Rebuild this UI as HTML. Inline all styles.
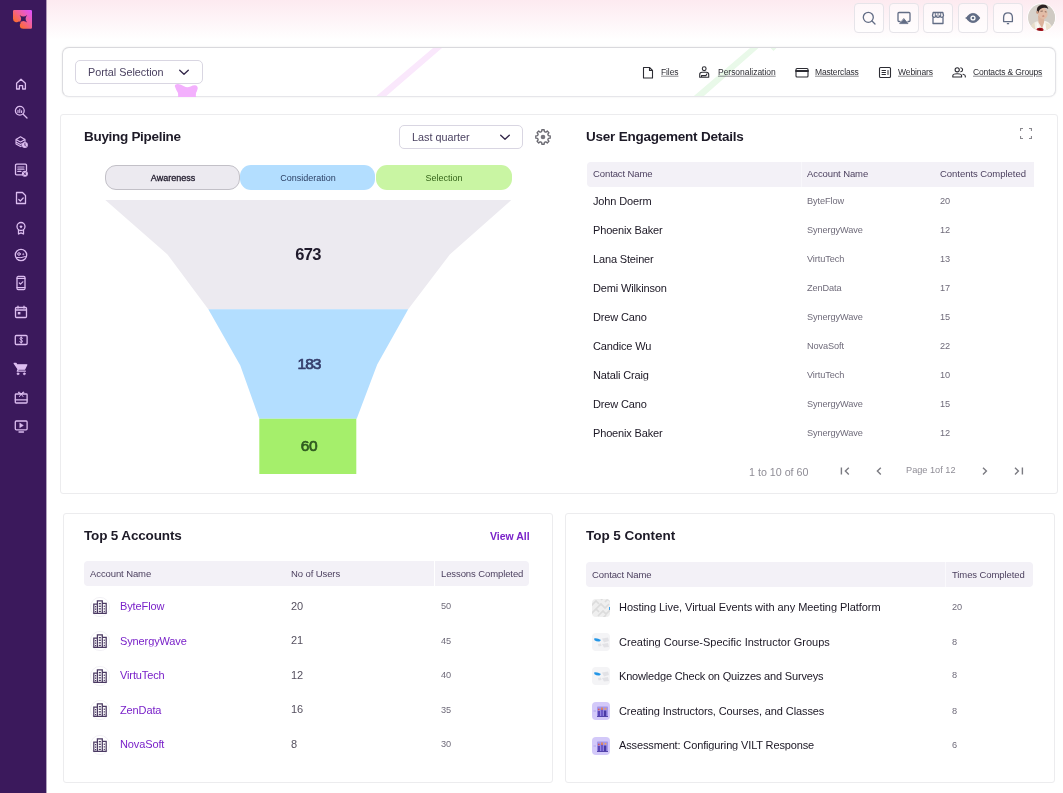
<!DOCTYPE html>
<html>
<head>
<meta charset="utf-8">
<style>
*{box-sizing:border-box;margin:0;padding:0}
html,body{width:1063px;height:793px;overflow:hidden;background:#fff;font-family:"Liberation Sans",sans-serif;color:#1f1a2b}
.abs{position:absolute}
.t{position:absolute;white-space:nowrap;line-height:1;transform:translateY(-50%);will-change:transform}
#side{position:absolute;left:0;top:0;width:46px;height:793px;background:#3b195c}
#topgrad{position:absolute;left:46px;top:0;width:1017px;height:40px;background:linear-gradient(180deg,#fdeaf0 0%,#fff 100%)}
.card{position:absolute;background:#fff;border:1px solid #ececee;border-radius:3px}
.tb{position:absolute;top:3px;width:30px;height:30px;border:1px solid #e6e4e9;border-radius:4px;background:rgba(255,255,255,.55)}
.hdr{position:absolute;background:#f3f1f7;border-radius:4px}
.h2{font-weight:bold;font-size:13.5px;color:#1d1a27}
.th{font-size:9.5px;color:#4b3f5e;letter-spacing:-.1px}
.nm{font-size:11px;color:#1b1724;letter-spacing:-.15px}
.sm{font-size:9.200px;color:#6f6b7a;letter-spacing:-.1px}
.lnk{font-size:11px;color:#7a22c9;letter-spacing:-.12px}
.navl{font-size:8.5px;color:#2c2c33;text-decoration:underline;text-decoration-color:#6f6f76;text-decoration-thickness:.8px;text-underline-offset:1px}
</style>
</head>
<body>
<div id="topgrad"></div>
<div id="side"></div><div class="abs" style="left:46px;top:0;width:1px;height:793px;background:rgba(59,25,92,.4)"></div>

<!-- SIDEBAR ICONS -->
<div id="sideicons"><svg class="abs" style="left:13.100px;top:10px" width="19" height="19" viewBox="0 0 19 19"><defs><linearGradient id="lg" x1="0.100" y1="0.900" x2="1" y2="0.050"><stop offset="0" stop-color="#ff7a1a"/><stop offset=".2" stop-color="#fb6a3c"/><stop offset=".55" stop-color="#f2609a"/><stop offset="1" stop-color="#df50ff"/></linearGradient></defs><path d="M1.200 0 H17.800 Q19 0 19 1.200 V17.600 Q19 18.800 17.800 18.800 H10.400 A3.600 3.600 0 0 1 6.800 15.200 A3.600 3.600 0 0 1 7.850 12.650 L6.150 11.150 A3.600 3.600 0 0 1 0 8.600 V1.200 Q0 0 1.200 0Z" fill="url(#lg)"/><path d="M6.600 5 Q10.400 8.200 14.200 5 Q11 8.800 14.200 12.600 Q10.400 9.400 6.400 12.800 Q9.800 8.800 6.600 5Z" fill="#3b195c"/></svg><svg class="abs" style="left:13.0px;top:76.3px" width="16" height="16" viewBox="0 0 16 16" fill="none" stroke="#dcbdf0" stroke-width="1.300" stroke-linejoin="round" stroke-linecap="round"><path d="M3.600 7.300 L8 3.300 L12.400 7.300 V13 H9.600 V9.600 H6.400 V13 H3.600Z"/></svg>
<svg class="abs" style="left:13.0px;top:103.9px" width="16" height="16" viewBox="0 0 16 16" fill="none" stroke="#dcbdf0" stroke-width="1.300" stroke-linejoin="round" stroke-linecap="round"><circle cx="6.800" cy="6.800" r="4.400"/><path d="M10.200 10.200 L14 14"/><path d="M5 6.200 V8.500 M6.800 5 V8.500 M8.600 6.800 V8.500" stroke-width="1.100"/></svg>
<svg class="abs" style="left:13.0px;top:133.5px" width="16" height="16" viewBox="0 0 16 16" fill="none" stroke="#dcbdf0" stroke-width="1.300" stroke-linejoin="round" stroke-linecap="round"><path d="M3 5.400 L7.500 2.800 L12 5.400 L7.500 8Z M3 5.400 V8 L7.500 10.600 L9 9.800 M12 5.400 V7.500 M3 8 V10 L7.500 12.600 L8.500 12.100" stroke-width="1.100"/><circle cx="11.900" cy="11.100" r="3" fill="#dcbdf0" stroke="none"/><path d="M11.900 9.600 V11.200 L12.900 12.200" stroke="#3b195c" stroke-width=".9"/></svg>
<svg class="abs" style="left:13.0px;top:161.8px" width="16" height="16" viewBox="0 0 16 16" fill="none" stroke="#dcbdf0" stroke-width="1.300" stroke-linejoin="round" stroke-linecap="round"><path d="M9 12.800 H3.600 Q2.500 12.800 2.500 11.700 V3.300 Q2.500 2.200 3.600 2.200 H12.400 Q13.500 2.200 13.500 3.300 V8.500"/><path d="M4.800 5 H11 M4.800 7.200 H11 M4.800 9.400 H8" stroke-width="1.200"/><circle cx="11.900" cy="11.700" r="3" fill="#dcbdf0" stroke="none"/><path d="M10.900 10.700 L12.900 12.700 M12.900 10.700 L10.900 12.700" stroke="#3b195c" stroke-width=".9"/></svg>
<svg class="abs" style="left:13.0px;top:190.0px" width="16" height="16" viewBox="0 0 16 16" fill="none" stroke="#dcbdf0" stroke-width="1.300" stroke-linejoin="round" stroke-linecap="round"><path d="M3.500 2.500 H9.500 L12.500 5.500 V13.500 H3.500Z"/><path d="M5.800 9.500 L7.300 11 L10.200 8" stroke-width="1.200"/></svg>
<svg class="abs" style="left:13.0px;top:219.5px" width="16" height="16" viewBox="0 0 16 16" fill="none" stroke="#dcbdf0" stroke-width="1.300" stroke-linejoin="round" stroke-linecap="round"><circle cx="8" cy="6.500" r="4"/><path d="M5.500 10 V14 L8 12.800 L10.500 14 V10"/><path d="M8 4.800 L8.600 6 L9.800 6.100 L8.900 7 L9.100 8.200 L8 7.600 L6.900 8.200 L7.100 7 L6.200 6.100 L7.400 6Z" fill="#dcbdf0" stroke="none"/></svg>
<svg class="abs" style="left:13.0px;top:247.0px" width="16" height="16" viewBox="0 0 16 16" fill="none" stroke="#dcbdf0" stroke-width="1.300" stroke-linejoin="round" stroke-linecap="round"><circle cx="8" cy="8" r="5.700"/><circle cx="6" cy="7" r="1.300" stroke-width="1"/><path d="M10.200 5.800 L10.600 6.800 L11.600 7.200 L10.600 7.600 L10.200 8.600 L9.800 7.600 L8.800 7.200 L9.800 6.800Z" fill="#dcbdf0" stroke="none"/><path d="M3.500 10.500 Q8 11.500 12.500 9.500" stroke-width="1"/></svg>
<svg class="abs" style="left:13.0px;top:275.3px" width="16" height="16" viewBox="0 0 16 16" fill="none" stroke="#dcbdf0" stroke-width="1.300" stroke-linejoin="round" stroke-linecap="round"><rect x="4" y="1.500" width="8" height="13" rx="1.200"/><path d="M4 3.500 H12 M4 12.500 H12" stroke-width="1"/><path d="M6.300 8 L7.500 9.200 L9.800 6.800" stroke-width="1.200"/></svg>
<svg class="abs" style="left:13.0px;top:304.0px" width="16" height="16" viewBox="0 0 16 16" fill="none" stroke="#dcbdf0" stroke-width="1.300" stroke-linejoin="round" stroke-linecap="round"><rect x="2.500" y="3.500" width="11" height="10" rx="1"/><path d="M2.500 6 H13.500 M5 2.200 V4 M11 2.200 V4"/><rect x="4.800" y="8" width="2.600" height="2.400" fill="#dcbdf0" stroke="none"/></svg>
<svg class="abs" style="left:13.0px;top:332.0px" width="16" height="16" viewBox="0 0 16 16" fill="none" stroke="#dcbdf0" stroke-width="1.300" stroke-linejoin="round" stroke-linecap="round"><rect x="2.300" y="3.500" width="11.800" height="9" rx="1"/><path d="M9.500 6.300 Q9.300 5.500 8.200 5.500 Q7 5.500 7 6.500 Q7 7.500 8.200 7.900 Q9.500 8.300 9.500 9.400 Q9.500 10.500 8.200 10.500 Q7 10.500 6.800 9.600 M8.200 4.800 V11.200" stroke-width="1"/></svg>
<svg class="abs" style="left:12.5px;top:360.7px" width="16" height="16" viewBox="0 0 16 16" fill="none" stroke="#dcbdf0" stroke-width="1.300" stroke-linejoin="round" stroke-linecap="round"><path d="M1.200 2.300 H3 L3.700 3.800 H13.800 L11.600 8.200 H5.200Z" fill="#dcbdf0"/><path d="M5.200 8.200 L4.300 10.200 H12.300" /><circle cx="5" cy="12.800" r="1" fill="#dcbdf0" stroke-width=".6"/><circle cx="11.300" cy="12.800" r="1" fill="#dcbdf0" stroke-width=".6"/></svg>
<svg class="abs" style="left:13.0px;top:389.0px" width="16" height="16" viewBox="0 0 16 16" fill="none" stroke="#dcbdf0" stroke-width="1.300" stroke-linejoin="round" stroke-linecap="round"><rect x="2.300" y="5" width="11.800" height="9" rx=".8"/><path d="M2.300 10.800 H14"/><path d="M8.200 5 Q6 2 5.300 3.200 Q5 4.300 8.200 5 Q11 4.300 11 3.200 Q10.300 2 8.200 5 M6.500 7.500 L8.200 5.200 L10 7.500" stroke-width="1"/></svg>
<svg class="abs" style="left:13.0px;top:417.6px" width="16" height="16" viewBox="0 0 16 16" fill="none" stroke="#dcbdf0" stroke-width="1.300" stroke-linejoin="round" stroke-linecap="round"><rect x="2.300" y="3" width="11.800" height="8.800" rx="1"/><path d="M6 14 H10.500"/><path d="M7 5.300 L10.300 7.400 L7 9.500Z" fill="#dcbdf0" stroke-width=".6"/></svg>
</div>

<!-- TOP BUTTONS -->
<div id="topbtns"><div class="tb" style="left:854px"><svg class="abs" style="left:6px;top:6px" width="16" height="16" viewBox="0 0 16 16" fill="none" stroke="#626c85" stroke-width="1.300" stroke-linecap="round" stroke-linejoin="round"><circle cx="7.300" cy="7.300" r="5"/><path d="M11 11 L14 14"/></svg></div>
<div class="tb" style="left:889px"><svg class="abs" style="left:6px;top:6px" width="16" height="16" viewBox="0 0 16 16" fill="none" stroke="#626c85" stroke-width="1.300" stroke-linecap="round" stroke-linejoin="round"><path d="M4 11.500 H3 Q2 11.500 2 10.500 V3.500 Q2 2.500 3 2.500 H13 Q14 2.500 14 3.500 V10.500 Q14 11.500 13 11.500 H12"/><path d="M8 8.800 L12 13.600 H4Z" fill="#626c85" stroke-width=".8"/></svg></div>
<div class="tb" style="left:923px"><svg class="abs" style="left:6px;top:6px" width="16" height="16" viewBox="0 0 16 16" fill="none" stroke="#626c85" stroke-width="1.300" stroke-linecap="round" stroke-linejoin="round"><path d="M3 7.500 V13.500 H13 V7.500 M2.500 5.500 L3.200 2.500 H12.800 L13.500 5.500 Q13.500 7.300 11.700 7.300 Q10 7.300 10 5.500 Q10 7.300 8 7.300 Q6 7.300 6 5.500 Q6 7.300 4.300 7.300 Q2.500 7.300 2.500 5.500Z"/><path d="M5.300 2.800 V5.800 M8 2.800 V5.800 M10.700 2.800 V5.800" stroke-width=".9"/></svg></div>
<div class="tb" style="left:958px"><svg class="abs" style="left:6px;top:6px" width="16" height="16" viewBox="0 0 16 16" fill="none" stroke="#626c85" stroke-width="1.300" stroke-linecap="round" stroke-linejoin="round"><path d="M1 8 Q4 3.300 8 3.300 Q12 3.300 15 8 Q12 12.700 8 12.700 Q4 12.700 1 8Z" fill="#626c85" stroke-width=".6"/><circle cx="8" cy="8" r="2.600" fill="#fff" stroke="none"/><circle cx="8" cy="8" r="1.300" fill="#626c85" stroke="none"/></svg></div>
<div class="tb" style="left:993px"><svg class="abs" style="left:6px;top:6px" width="16" height="16" viewBox="0 0 16 16" fill="none" stroke="#626c85" stroke-width="1.300" stroke-linecap="round" stroke-linejoin="round"><path d="M3.600 11.600 V7.600 Q3.600 2.800 8 2.800 Q12.400 2.800 12.400 7.600 V11.600 Z M7.400 13.700 H8.600"/></svg></div>
<svg class="abs" style="left:1027.400px;top:2.900px" width="29" height="29" viewBox="-0.500 -0.500 29 29"><defs><clipPath id="av"><circle cx="14" cy="14" r="13.500"/></clipPath><filter id="avb" x="-20%" y="-20%" width="140%" height="140%"><feGaussianBlur stdDeviation=".55"/></filter></defs><circle cx="14" cy="14" r="14.300" fill="#fff"/><g clip-path="url(#av)"><rect x="-1" y="-1" width="30" height="30" fill="#d7d2cb"/><g filter="url(#avb)"><rect x="17" y="0" width="12" height="28" fill="#cfcac3"/><path d="M2 28 Q4 19.500 9 18 L18 17.500 Q24 19 26.500 28Z" fill="#f3efe8"/><path d="M17.500 19 Q24 20 27 28 L19 28Z" fill="#ece2cf"/><path d="M2 28 Q3 21 7 19 L8 28Z" fill="#e6dcc8"/><path d="M10.500 12 L11 19 Q13 22 14.500 25 L16.500 19 L17 13Z" fill="#dcb39c"/><path d="M9.500 18.500 L13 27 L9 27Z" fill="#fbf9f5"/><path d="M17.500 18 L14.500 27 L19 27Z" fill="#fbf9f5"/><ellipse cx="15.300" cy="9.800" rx="4.700" ry="5.900" fill="#e2bca6" transform="rotate(-12 15.300 9.800)"/><path d="M9.300 8.500 Q8.500 2.500 14 1.200 Q19.500 0.300 20.800 5.500 Q18.500 3.800 15 4.500 Q11.500 5.500 10.800 9.500 Q9.800 10 9.300 8.500Z" fill="#2a2120"/><ellipse cx="9.800" cy="8.800" rx="1" ry="1.600" fill="#c9987f"/><path d="M13 7.800 L15.300 7.500 M17.300 8.200 L19 8.500" stroke="#5a4038" stroke-width=".7" fill="none"/><ellipse cx="15.800" cy="12.600" rx="1.100" ry=".5" fill="#b8665a"/><ellipse cx="12.500" cy="26.200" rx="3.500" ry="2" fill="#a80d1a"/><ellipse cx="12.300" cy="26" rx="1.500" ry=".9" fill="#6e0710"/></g></g></svg></div>

<!-- PORTAL CARD -->
<div id="portal">
<div class="card" style="left:62px;top:47px;width:994px;height:50px;border-color:#d9d9dd #e2e2e6 #e6e6ea #dcdce0;border-radius:7px;box-shadow:0 0 2px rgba(0,0,0,.10);overflow:hidden">
  <svg class="abs" style="left:-1px;top:-1px" width="994" height="50" viewBox="62 47 994 50">
    <path d="M375.300 97 L433 48 L442 48 L385.200 97Z" fill="#fae8fc"/>
    <path d="M692.700 97 L750 48 L758.500 48 L702.800 97Z M770.500 48 L776.500 48 L773.500 51Z" fill="#e9f9e9"/>
    <path d="M174.800 86.300 Q174.800 84 178 84 Q181 84.200 184 86.300 Q187.300 88 190.500 86.400 Q193 85.100 195 85.200 Q197.900 85.600 197.700 88.500 Q197.200 91 196 93 L195.700 98 L178.300 98 L178 93 Q176.300 90.500 174.800 86.300Z" fill="#f3b0fd"/>
  </svg>
</div>
<div class="abs" style="left:178.300px;top:96px;width:17.400px;height:1px;background:#f3b0fd"></div><div class="abs" style="left:75px;top:60px;width:128px;height:24px;border:1px solid #d9d6e2;border-radius:5px;background:#fff"></div>
<div class="t" style="left:88.300px;top:71.900px;font-size:10.800px;color:#4a4160">Portal Selection</div>
<div class="t navl" style="left:661.4px;top:72.300px;letter-spacing:-0.110px">Files</div>
<div class="t navl" style="left:717.7px;top:72.300px;letter-spacing:-0.028px">Personalization</div>
<div class="t navl" style="left:815px;top:72.300px;letter-spacing:-0.149px">Masterclass</div>
<div class="t navl" style="left:898.3px;top:72.300px;letter-spacing:-0.106px">Webinars</div>
<div class="t navl" style="left:972.8px;top:72.300px;letter-spacing:-0.154px">Contacts &amp; Groups</div>
<svg class="abs" style="left:640px;top:64px" width="330" height="16" viewBox="640 64 330 16" fill="none" stroke="#2c2c33" stroke-width="1.100" stroke-linejoin="round" stroke-linecap="round">
<path d="M643.500 67.500 H649.500 L652.500 70.500 V78 H643.500Z M649.500 67.500 V70.500 H652.500"/>
<circle cx="704.200" cy="68.700" r="1.900"/><path d="M699.700 77.300 V74.500 Q699.700 72.300 702 72.300 H706.400 Q708.700 72.300 708.700 74.500 V77.300 H699.700 M701.500 77.300 V75.600 H706 L706.800 74"/>
<rect x="796" y="68.500" width="12" height="8.500" rx="1"/><path d="M796 71 H808" stroke-width="1.800"/>
<rect x="879.500" y="67.500" width="11" height="10" rx="1"/><path d="M882 70.500 H885.500 M882 72.500 H885.500 M882 74.500 H885.500 M888 70.500 V74.500" stroke-width="1"/>
<circle cx="957.200" cy="69.800" r="2.100"/><path d="M952.800 77 V75.800 Q952.800 73.800 957.200 73.800 Q961.600 73.800 961.600 75.800 V77Z"/><path d="M960.800 67.800 Q962.600 68.200 962.600 69.800 Q962.600 71.400 960.800 71.800 M963 74.200 Q965.300 74.800 965.300 76 V77"/>
</svg><svg class="abs" style="left:177.700px;top:68px" width="12" height="9" viewBox="0 0 12 9"><path d="M1.700 2.200 L6 6.300 L10.300 2.200" fill="none" stroke="#35294b" stroke-width="1.350" stroke-linecap="round" stroke-linejoin="round"/></svg>
</div>

<!-- MAIN CARD -->
<div id="main">
<div class="card" style="left:60px;top:114px;width:998px;height:380px"></div>
<div class="t h2" style="left:84px;top:137.200px;letter-spacing:-.3px">Buying Pipeline</div>
<div class="abs" style="left:399px;top:125px;width:124px;height:24px;border:1px solid #d9d6e2;border-radius:5px;background:#fff"></div>
<div class="t" style="left:412.300px;top:136.800px;font-size:10.800px;color:#4a4160">Last quarter</div>
<svg class="abs" style="left:498.500px;top:132.500px" width="12" height="9" viewBox="0 0 12 9"><path d="M1.700 2.200 L6 6.300 L10.300 2.200" fill="none" stroke="#35294b" stroke-width="1.350" stroke-linecap="round" stroke-linejoin="round"/></svg>
<svg id="gear" class="abs" style="left:534px;top:128px" width="18" height="18" viewBox="0 0 18 18"><path d="M7.67 3.56 L7.84 1.79 L10.16 1.79 L10.33 3.56 L11.91 4.21 L13.27 3.08 L14.92 4.73 L13.79 6.09 L14.44 7.67 L16.21 7.84 L16.21 10.16 L14.44 10.33 L13.79 11.91 L14.92 13.27 L13.27 14.92 L11.91 13.79 L10.33 14.44 L10.16 16.21 L7.84 16.21 L7.67 14.44 L6.09 13.79 L4.73 14.92 L3.08 13.27 L4.21 11.91 L3.56 10.33 L1.79 10.16 L1.79 7.84 L3.56 7.67 L4.21 6.09 L3.08 4.73 L4.73 3.08 L6.09 4.21Z" fill="none" stroke="#6b6a72" stroke-width="1.350" stroke-linejoin="round"/><circle cx="9" cy="9" r="2.300" fill="#77767e"/></svg>

<!-- tabs -->
<div class="abs" style="left:105px;top:165px;width:135px;height:25px;border-radius:11px;background:#eceaf0;border:1.5px solid #c2c0c7"></div>
<div class="abs" style="left:240px;top:165px;width:135px;height:25px;border-radius:11px;background:#b3deff"></div>
<div class="abs" style="left:376px;top:165px;width:136px;height:25px;border-radius:11px;background:#c9f5a3"></div>
<div class="t" style="left:172.5px;top:177.5px;font-size:9px;color:#1f1a2b;-webkit-text-stroke:.3px #1f1a2b;transform:translate(-50%,-50%)">Awareness</div>
<div class="t" style="left:307.5px;top:177.5px;font-size:9px;color:#2b3f63;transform:translate(-50%,-50%)">Consideration</div>
<div class="t" style="left:443.5px;top:177.5px;font-size:9px;color:#35651a;transform:translate(-50%,-50%)">Selection</div>

<!-- funnel -->
<svg class="abs" style="left:0;top:0" width="600" height="500" viewBox="0 0 600 500">
<path d="M105.300 200 L511.300 200 L449.800 254.500 L408.200 309.300 L208.300 309.300 L167.500 254.500Z" fill="#eceaf0"/>
<path d="M208.300 309.300 L408.200 309.300 L377.200 364.500 L356.700 418.800 L259.300 418.800 L240.300 365.500Z" fill="#b3deff"/>
<path d="M259.300 418.800 L356.300 418.800 L356.300 474 L259.300 474Z" fill="#a5ef6b"/>
</svg>
<div class="t" style="left:308px;top:254px;font-size:16.500px;letter-spacing:-.7px;font-weight:bold;color:#1f1a2b;transform:translate(-50%,-50%)">673</div>
<div class="t" style="left:308.800px;top:363.700px;font-size:15.500px;letter-spacing:-.9px;-webkit-text-stroke:.7px #353d6b;color:#353d6b;transform:translate(-50%,-50%)">183</div>
<div class="t" style="left:308.600px;top:446.200px;font-size:15.500px;letter-spacing:-.3px;-webkit-text-stroke:.7px #2f5a20;color:#2f5a20;transform:translate(-50%,-50%)">60</div>

<!-- user engagement -->
<div class="t h2" style="left:586px;top:137.200px;letter-spacing:-.226px">User Engagement Details</div>
<svg class="abs" style="left:1020px;top:128px" width="12" height="11" viewBox="0 0 12 11"><path d="M0.500 3 V0.500 H3 M9 0.500 H11.500 V3 M11.500 8 V10.500 H9 M3 10.500 H0.500 V8" fill="none" stroke="#8a898f" stroke-width="1.200"/></svg>
<div class="hdr" style="left:587px;top:162px;width:447px;height:25px;border-radius:4px 0 0 4px"></div><div class="abs" style="left:801px;top:162px;width:1px;height:25px;background:#f8f7fb"></div>
<div class="t th" style="left:593px;top:174.100px">Contact Name</div>
<div class="t th" style="left:807px;top:174.100px">Account Name</div>
<div class="t th" style="left:940px;top:174.100px;letter-spacing:-.04px">Contents Completed</div>
<div class="t nm" style="left:593px;top:201.40px">John Doerm</div><div class="t sm" style="left:807px;top:201.90px">ByteFlow</div><div class="t sm" style="left:940px;top:201.90px">20</div>
<div class="t nm" style="left:593px;top:230.35px">Phoenix Baker</div><div class="t sm" style="left:807px;top:230.85px">SynergyWave</div><div class="t sm" style="left:940px;top:230.85px">12</div>
<div class="t nm" style="left:593px;top:259.30px">Lana Steiner</div><div class="t sm" style="left:807px;top:259.80px">VirtuTech</div><div class="t sm" style="left:940px;top:259.80px">13</div>
<div class="t nm" style="left:593px;top:288.25px">Demi Wilkinson</div><div class="t sm" style="left:807px;top:288.75px">ZenData</div><div class="t sm" style="left:940px;top:288.75px">17</div>
<div class="t nm" style="left:593px;top:317.20px">Drew Cano</div><div class="t sm" style="left:807px;top:317.70px">SynergyWave</div><div class="t sm" style="left:940px;top:317.70px">15</div>
<div class="t nm" style="left:593px;top:346.15px">Candice Wu</div><div class="t sm" style="left:807px;top:346.65px">NovaSoft</div><div class="t sm" style="left:940px;top:346.65px">22</div>
<div class="t nm" style="left:593px;top:375.10px">Natali Craig</div><div class="t sm" style="left:807px;top:375.60px">VirtuTech</div><div class="t sm" style="left:940px;top:375.60px">10</div>
<div class="t nm" style="left:593px;top:404.05px">Drew Cano</div><div class="t sm" style="left:807px;top:404.55px">SynergyWave</div><div class="t sm" style="left:940px;top:404.55px">15</div>
<div class="t nm" style="left:593px;top:433.00px">Phoenix Baker</div><div class="t sm" style="left:807px;top:433.50px">SynergyWave</div><div class="t sm" style="left:940px;top:433.50px">12</div>

<div class="t" style="left:748.500px;top:472.300px;font-size:10.700px;color:#8f8d96">1 to 10 of 60</div>
<div class="t" style="left:905.500px;top:471px;font-size:9.200px;color:#8f8d96">Page 1of 12</div>
<svg class="abs" style="left:838px;top:465px" width="190" height="12" viewBox="838 465 190 12" fill="none" stroke="#7b7b82" stroke-width="1.400" stroke-linecap="butt" stroke-linejoin="miter">
<path d="M841.400 467.600 V474.600 M848.800 467.800 L845.400 471.100 L848.800 474.400"/>
<path d="M880.800 467.800 L877.400 471.100 L880.800 474.400"/>
<path d="M983 467.800 L986.400 471.100 L983 474.400"/>
<path d="M1015 467.800 L1018.400 471.100 L1015 474.400 M1022.400 467.600 V474.600"/>
</svg>
</div>

<!-- BOTTOM LEFT -->
<div id="bl">
<div class="card" style="left:63px;top:513px;width:490px;height:270px"></div>
<div class="t h2" style="left:84px;top:535.500px;letter-spacing:-.155px">Top 5 Accounts</div>
<div class="t" style="left:489.500px;top:535.500px;font-size:10.500px;color:#7a22c9;font-weight:bold">View All</div>
<div class="hdr" style="left:84px;top:561px;width:445px;height:25px"></div>
<div class="abs" style="left:434px;top:561px;width:1px;height:25px;background:#fff"></div>
<div class="t th" style="left:90px;top:574px">Account Name</div>
<div class="t th" style="left:291px;top:574px">No of Users</div>
<div class="t th" style="left:441px;top:574px">Lessons Completed</div>
<svg class="abs" style="left:90px;top:596.5px" width="20" height="20" viewBox="0 0 20 20"><circle cx="10" cy="10" r="9.600" fill="#fff" stroke="#efedf2" stroke-width=".8"/><g fill="none" stroke="#4b3a63" stroke-width="1.250"><path d="M3.800 16.300 V7.200 H7.400 M7.400 16.300 V3.900 H12.300 V16.300 M12.300 6.400 H16.200 V16.300 M3.200 16.300 H16.800"/></g><g fill="#4b3a63"><rect x="5" y="9" width="1.200" height="1.300"/><rect x="5" y="11.500" width="1.200" height="1.300"/><rect x="5" y="14" width="1.200" height="1.300"/><rect x="8.800" y="6" width="2.100" height="1.300"/><rect x="8.800" y="8.600" width="2.100" height="1.300"/><rect x="8.800" y="11.200" width="2.100" height="1.300"/><rect x="8.800" y="13.800" width="2.100" height="1.300"/><rect x="13.700" y="8.600" width="1.200" height="1.300"/><rect x="13.700" y="11.200" width="1.200" height="1.300"/><rect x="13.700" y="13.800" width="1.200" height="1.300"/></g></svg><div class="t lnk" style="left:119.700px;top:606.3px">ByteFlow</div><div class="t" style="left:291px;top:605.8px;font-size:11px;color:#55505f">20</div><div class="t sm" style="left:441px;top:607.0px">50</div>
<svg class="abs" style="left:90px;top:631.0px" width="20" height="20" viewBox="0 0 20 20"><circle cx="10" cy="10" r="9.600" fill="#fff" stroke="#efedf2" stroke-width=".8"/><g fill="none" stroke="#4b3a63" stroke-width="1.250"><path d="M3.800 16.300 V7.200 H7.400 M7.400 16.300 V3.900 H12.300 V16.300 M12.300 6.400 H16.200 V16.300 M3.200 16.300 H16.800"/></g><g fill="#4b3a63"><rect x="5" y="9" width="1.200" height="1.300"/><rect x="5" y="11.500" width="1.200" height="1.300"/><rect x="5" y="14" width="1.200" height="1.300"/><rect x="8.800" y="6" width="2.100" height="1.300"/><rect x="8.800" y="8.600" width="2.100" height="1.300"/><rect x="8.800" y="11.200" width="2.100" height="1.300"/><rect x="8.800" y="13.800" width="2.100" height="1.300"/><rect x="13.700" y="8.600" width="1.200" height="1.300"/><rect x="13.700" y="11.200" width="1.200" height="1.300"/><rect x="13.700" y="13.800" width="1.200" height="1.300"/></g></svg><div class="t lnk" style="left:119.700px;top:640.8px">SynergyWave</div><div class="t" style="left:291px;top:640.3px;font-size:11px;color:#55505f">21</div><div class="t sm" style="left:441px;top:641.5px">45</div>
<svg class="abs" style="left:90px;top:665.5px" width="20" height="20" viewBox="0 0 20 20"><circle cx="10" cy="10" r="9.600" fill="#fff" stroke="#efedf2" stroke-width=".8"/><g fill="none" stroke="#4b3a63" stroke-width="1.250"><path d="M3.800 16.300 V7.200 H7.400 M7.400 16.300 V3.900 H12.300 V16.300 M12.300 6.400 H16.200 V16.300 M3.200 16.300 H16.800"/></g><g fill="#4b3a63"><rect x="5" y="9" width="1.200" height="1.300"/><rect x="5" y="11.500" width="1.200" height="1.300"/><rect x="5" y="14" width="1.200" height="1.300"/><rect x="8.800" y="6" width="2.100" height="1.300"/><rect x="8.800" y="8.600" width="2.100" height="1.300"/><rect x="8.800" y="11.200" width="2.100" height="1.300"/><rect x="8.800" y="13.800" width="2.100" height="1.300"/><rect x="13.700" y="8.600" width="1.200" height="1.300"/><rect x="13.700" y="11.200" width="1.200" height="1.300"/><rect x="13.700" y="13.800" width="1.200" height="1.300"/></g></svg><div class="t lnk" style="left:119.700px;top:675.3px">VirtuTech</div><div class="t" style="left:291px;top:674.8px;font-size:11px;color:#55505f">12</div><div class="t sm" style="left:441px;top:676.0px">40</div>
<svg class="abs" style="left:90px;top:700.0px" width="20" height="20" viewBox="0 0 20 20"><circle cx="10" cy="10" r="9.600" fill="#fff" stroke="#efedf2" stroke-width=".8"/><g fill="none" stroke="#4b3a63" stroke-width="1.250"><path d="M3.800 16.300 V7.200 H7.400 M7.400 16.300 V3.900 H12.300 V16.300 M12.300 6.400 H16.200 V16.300 M3.200 16.300 H16.800"/></g><g fill="#4b3a63"><rect x="5" y="9" width="1.200" height="1.300"/><rect x="5" y="11.500" width="1.200" height="1.300"/><rect x="5" y="14" width="1.200" height="1.300"/><rect x="8.800" y="6" width="2.100" height="1.300"/><rect x="8.800" y="8.600" width="2.100" height="1.300"/><rect x="8.800" y="11.200" width="2.100" height="1.300"/><rect x="8.800" y="13.800" width="2.100" height="1.300"/><rect x="13.700" y="8.600" width="1.200" height="1.300"/><rect x="13.700" y="11.200" width="1.200" height="1.300"/><rect x="13.700" y="13.800" width="1.200" height="1.300"/></g></svg><div class="t lnk" style="left:119.700px;top:709.8px">ZenData</div><div class="t" style="left:291px;top:709.3px;font-size:11px;color:#55505f">16</div><div class="t sm" style="left:441px;top:710.5px">35</div>
<svg class="abs" style="left:90px;top:734.5px" width="20" height="20" viewBox="0 0 20 20"><circle cx="10" cy="10" r="9.600" fill="#fff" stroke="#efedf2" stroke-width=".8"/><g fill="none" stroke="#4b3a63" stroke-width="1.250"><path d="M3.800 16.300 V7.200 H7.400 M7.400 16.300 V3.900 H12.300 V16.300 M12.300 6.400 H16.200 V16.300 M3.200 16.300 H16.800"/></g><g fill="#4b3a63"><rect x="5" y="9" width="1.200" height="1.300"/><rect x="5" y="11.500" width="1.200" height="1.300"/><rect x="5" y="14" width="1.200" height="1.300"/><rect x="8.800" y="6" width="2.100" height="1.300"/><rect x="8.800" y="8.600" width="2.100" height="1.300"/><rect x="8.800" y="11.200" width="2.100" height="1.300"/><rect x="8.800" y="13.800" width="2.100" height="1.300"/><rect x="13.700" y="8.600" width="1.200" height="1.300"/><rect x="13.700" y="11.200" width="1.200" height="1.300"/><rect x="13.700" y="13.800" width="1.200" height="1.300"/></g></svg><div class="t lnk" style="left:119.700px;top:744.3px">NovaSoft</div><div class="t" style="left:291px;top:743.8px;font-size:11px;color:#55505f">8</div><div class="t sm" style="left:441px;top:745.0px">30</div>

</div>

<!-- BOTTOM RIGHT -->
<div id="br">
<div class="card" style="left:565px;top:513px;width:490px;height:270px"></div>
<div class="t h2" style="left:586px;top:535.500px;letter-spacing:-.05px">Top 5 Content</div>
<div class="hdr" style="left:586px;top:562px;width:447px;height:25px"></div>
<div class="abs" style="left:944.500px;top:562px;width:1px;height:25px;background:#faf9fc"></div>
<div class="t th" style="left:592px;top:575px">Contact Name</div>
<div class="t th" style="left:952px;top:575px">Times Completed</div>
<svg class="abs" style="left:592px;top:598.7px" width="18" height="18" viewBox="0 0 18 18"><defs><clipPath id="ca"><rect width="18" height="18" rx="4"/></clipPath></defs><g clip-path="url(#ca)"><rect width="18" height="18" fill="#efefef"/><path d="M-1 7 L4 2 L7 5 M3 11 L9 5 L13 9 L17 5 M-1 15 L4 10 L7 13 M6 17 L11 12 L14 15 L19 10 M9 1 L12 -2 M13 3 L16 0 L19 3 M10 20 L14 16" fill="none" stroke="#dcdcdc" stroke-width="1.700"/><rect x="17" y="8" width="1.500" height="3" fill="#3aa0e8"/></g></svg><div class="t nm" style="left:619.300px;top:607.1px;letter-spacing:-0.043px">Hosting Live, Virtual Events with any Meeting Platform</div><div class="t sm" style="left:952px;top:607.8px">20</div>
<svg class="abs" style="left:592px;top:633.0px" width="18" height="18" viewBox="0 0 18 18"><rect width="18" height="18" rx="4" fill="#f4f4f6"/><path d="M2 5.500 Q5 4.500 9 7 L7.500 8.500 Q4.500 8.800 2.500 7.200Z" fill="#2496e6"/><path d="M10 5.500 L16 4.500 L17 8 L12 9.500Z M10 11 L16 10 L17 14 L12 14.500Z M6 11 L9 10.500 L9.500 13 L6.500 13.500Z" fill="#e2e2e6"/></svg><div class="t nm" style="left:619.300px;top:641.8px;letter-spacing:0.012px">Creating Course-Specific Instructor Groups</div><div class="t sm" style="left:952px;top:642.5px">8</div>
<svg class="abs" style="left:592px;top:666.9px" width="18" height="18" viewBox="0 0 18 18"><rect width="18" height="18" rx="4" fill="#f4f4f6"/><path d="M2 5.500 Q5 4.500 9 7 L7.500 8.500 Q4.500 8.800 2.500 7.200Z" fill="#2496e6"/><path d="M10 5.500 L16 4.500 L17 8 L12 9.500Z M10 11 L16 10 L17 14 L12 14.500Z M6 11 L9 10.500 L9.500 13 L6.500 13.500Z" fill="#e2e2e6"/></svg><div class="t nm" style="left:619.300px;top:675.7px;letter-spacing:-0.175px">Knowledge Check on Quizzes and Surveys</div><div class="t sm" style="left:952px;top:676.4px">8</div>
<svg class="abs" style="left:592px;top:702.2px" width="18" height="18" viewBox="0 0 18 18"><rect width="18" height="18" rx="4" fill="#d3c9f9"/><rect x="5" y="4.500" width="11" height="10" rx=".8" fill="#a396ea"/><rect x="5.800" y="9" width="2.200" height="5.300" fill="#5a46b8"/><rect x="8.800" y="7" width="2.200" height="7.300" fill="#6b58c8"/><rect x="11.800" y="8.500" width="2.500" height="5.800" fill="#4a3aa5"/><rect x="9.200" y="5.500" width="1.600" height="2.500" fill="#e8834a"/><circle cx="13.500" cy="6.800" r="1" fill="#f0a060"/><circle cx="6.800" cy="7.500" r=".9" fill="#d85a5a"/><rect x="5" y="14" width="11" height=".9" fill="#4a3aa5"/><rect x="1.500" y="8.500" width="2.500" height="1" fill="#b0a5ee"/></svg><div class="t nm" style="left:619.300px;top:711.0px;letter-spacing:-0.107px">Creating Instructors, Courses, and Classes</div><div class="t sm" style="left:952px;top:711.7px">8</div>
<svg class="abs" style="left:592px;top:736.6px" width="18" height="18" viewBox="0 0 18 18"><rect width="18" height="18" rx="4" fill="#d3c9f9"/><rect x="5" y="4.500" width="11" height="10" rx=".8" fill="#a396ea"/><rect x="5.800" y="9" width="2.200" height="5.300" fill="#5a46b8"/><rect x="8.800" y="7" width="2.200" height="7.300" fill="#6b58c8"/><rect x="11.800" y="8.500" width="2.500" height="5.800" fill="#4a3aa5"/><rect x="9.200" y="5.500" width="1.600" height="2.500" fill="#e8834a"/><circle cx="13.500" cy="6.800" r="1" fill="#f0a060"/><circle cx="6.800" cy="7.500" r=".9" fill="#d85a5a"/><rect x="5" y="14" width="11" height=".9" fill="#4a3aa5"/><rect x="1.500" y="8.500" width="2.500" height="1" fill="#b0a5ee"/></svg><div class="t nm" style="left:619.300px;top:745.4px;letter-spacing:-0.138px">Assessment: Configuring VILT Response</div><div class="t sm" style="left:952px;top:746.1px">6</div>

</div>
</body>
</html>
